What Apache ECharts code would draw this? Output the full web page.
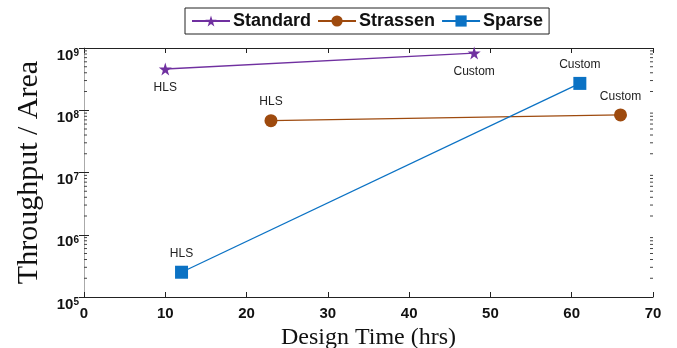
<!DOCTYPE html>
<html><head><meta charset="utf-8">
<script src="https://cdn.jsdelivr.net/npm/echarts@6/dist/echarts.min.js"></script>
<style>html,body{margin:0;padding:0;background:#fff}#c{width:677px;height:348px}</style>
</head><body><div id="c"></div>
<script>
const seriesNames = ['Standard', 'Strassen', 'Sparse'];
const pointLabels = ['HLS', 'Custom'];
const standardX = [10, 48];
const standardY = [4.6e8, 8.3e8];
const strassenX = [23, 66];
const strassenY = [6.8e7, 8.4e7];
const sparseX = [12, 61];
const sparseY = [2.5e5, 2.7e8];
const xTicks = [0, 10, 20, 30, 40, 50, 60, 70];
const yTicks = [1e5, 1e6, 1e7, 1e8, 1e9];

const colors = ['#7030A0', '#9E4A0E', '#0B72C4'];
const symbols = ['path://M50,0 L61,35 L98,35 L68,57 L79,91 L50,70 L21,91 L32,57 L2,35 L39,35 Z', 'circle', 'rect'];
const labelPos = [['bottom', 'bottom'], ['top', 'top'], ['top', 'top']];
const xs = [standardX, strassenX, sparseX];
const ys = [standardY, strassenY, sparseY];

// minor tick values (axis decoration, 2..9 x 10^k)
const minorTicks = [];
for (let k = 5; k < 9; k++) for (let m = 2; m <= 9; m++) minorTicks.push([0, m * Math.pow(10, k)]);

const chart = echarts.init(document.getElementById('c'));
const tickLabelStyle = {
  fontFamily: 'Liberation Sans, Arial, sans-serif', fontWeight: 'bold', fontSize: 15, color: '#111'
};
const series = seriesNames.map((n, i) => ({
  name: n, type: 'line', xAxisIndex: 0, yAxisIndex: 0,
  data: xs[i].map((x, j) => ({
    value: [x, ys[i][j]],
    label: { show: true, position: labelPos[i][j], formatter: pointLabels[j], distance: 6,
      fontFamily: 'Liberation Sans, Arial, sans-serif', fontSize: 12, color: '#222' }
  })),
  symbol: symbols[i], symbolSize: 13,
  lineStyle: { color: colors[i], width: 1.3 },
  itemStyle: { color: colors[i] },
  z: 5
}));
series.push({
  type: 'custom', silent: true, xAxisIndex: 0, yAxisIndex: 0,
  data: minorTicks,
  renderItem: function (params, api) {
    const y = api.value(1);
    const pL = api.coord([0, y]);
    const pR = api.coord([70, y]);
    const st = { stroke: '#444', lineWidth: 1 };
    return { type: 'group', children: [
      { type: 'line', shape: { x1: pL[0], y1: pL[1], x2: pL[0] + 3, y2: pL[1] }, style: st },
      { type: 'line', shape: { x1: pR[0], y1: pR[1], x2: pR[0] - 3, y2: pR[1] }, style: st }
    ]};
  },
  z: 3
});

chart.setOption({
  animation: false,
  backgroundColor: '#fff',
  color: colors,
  legend: {
    data: seriesNames, left: 185, top: 8, orient: 'horizontal',
    borderColor: '#222', borderWidth: 1, padding: [4, 6, 4, 6],
    itemWidth: 38, itemHeight: 14, itemGap: 6,
    textStyle: { fontFamily: 'Liberation Sans Narrow, Liberation Sans, Arial, sans-serif', fontWeight: 'bold', fontSize: 18, color: '#111', padding: [0, 0, 0, -2] }
  },
  grid: { left: 84, right: 24, top: 48, bottom: 51, containLabel: false, outerBoundsMode: 'none' },
  xAxis: [{
    type: 'value', min: 0, max: 70, interval: 10, position: 'bottom',
    name: 'Design Time (hrs)', nameLocation: 'middle', nameGap: 22,
    nameTextStyle: { fontFamily: 'Liberation Serif, Times New Roman, serif', fontSize: 24, color: '#111' },
    axisLine: { lineStyle: { color: '#222', width: 1.2 } },
    axisTick: { inside: true, length: 5, lineStyle: { color: '#222' } },
    axisLabel: Object.assign({ margin: 9, formatter: v => xTicks.includes(v) ? String(v) : '' }, tickLabelStyle),
    splitLine: { show: false }
  }, {
    type: 'value', min: 0, max: 70, interval: 10, position: 'top',
    axisLine: { lineStyle: { color: '#222', width: 1.2 } },
    axisTick: { inside: true, length: 5, lineStyle: { color: '#222' } },
    axisLabel: { show: false }, splitLine: { show: false }
  }],
  yAxis: [{
    type: 'log', logBase: 10, min: 1e5, max: 1e9, position: 'left',
    name: 'Throughput / Area', nameLocation: 'middle', nameGap: 40,
    nameTextStyle: { fontFamily: 'Liberation Serif, Times New Roman, serif', fontSize: 30, color: '#111' },
    axisLine: { show: true, lineStyle: { color: '#aaa', width: 1 } },
    axisTick: { inside: true, length: 5, lineStyle: { color: '#222' } },
    axisLabel: {
      margin: 5, verticalAlign: 'top',
      formatter: v => { const e = Math.round(Math.log10(v)); return yTicks.includes(Math.pow(10, e)) ? '{b|10}{s|' + e + '}' : ''; },
      rich: {
        b: { fontFamily: 'Liberation Sans, Arial, sans-serif', fontWeight: 'bold', fontSize: 15, color: '#111' },
        s: { fontFamily: 'Liberation Sans, Arial, sans-serif', fontWeight: 'bold', fontSize: 10, color: '#111', verticalAlign: 'top' }
      }
    },
    splitLine: { show: false }
  }, {
    type: 'log', logBase: 10, min: 1e5, max: 1e9, position: 'right',
    axisLine: { show: true, lineStyle: { color: '#aaa', width: 1 } },
    axisTick: { inside: true, length: 5, lineStyle: { color: '#222' } },
    axisLabel: { show: false }, splitLine: { show: false }
  }],
  series: series
});
</script></body></html>
